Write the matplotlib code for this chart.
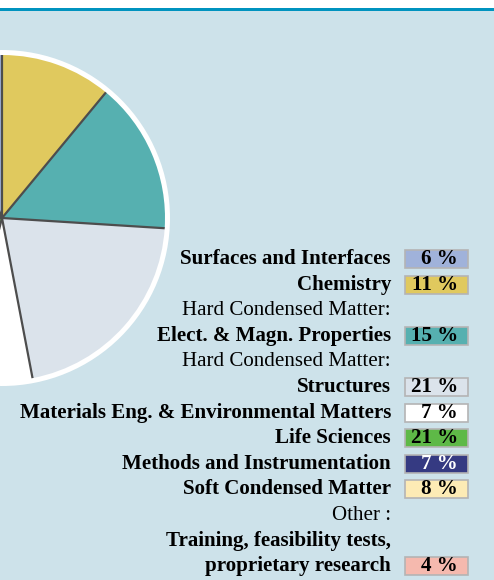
import numpy as np
import matplotlib.pyplot as plt
from matplotlib.patches import Rectangle, Circle

# proposal share per research area (clockwise from the top)
categories = ['Surfaces and Interfaces', 'Chemistry',
              'Elect. & Magn. Properties', 'Structures',
              'Materials Eng. & Environmental Matters', 'Life Sciences',
              'Methods and Instrumentation', 'Soft Condensed Matter',
              'Training, feasibility tests,\nproprietary research']
prefixes = ['', '', 'Hard Condensed Matter:', 'Hard Condensed Matter:',
            '', '', '', '', 'Other :']
shares = [6, 11, 15, 21, 7, 21, 7, 8, 4]
colors = ['#a0b2da', '#e0c95e', '#56b0b0', '#dbe3eb', '#ffffff',
          '#5eb947', '#353a82', '#fdebb5', '#f5b9ae']

BG = '#cde2ea'
W, H = 494, 580
FS = 15.1

plt.rcParams['font.family'] = ['Liberation Serif', 'DejaVu Serif']

fig = plt.figure(figsize=(W / 100, H / 100), dpi=100, facecolor=BG)
ax = fig.add_axes([0, 0, 1, 1])
ax.set_facecolor(BG)

# header strip
ax.add_patch(Rectangle((0, H - 8), W, 8, facecolor='white', edgecolor='none'))
ax.add_patch(Rectangle((0, H - 10.5), W, 2.5, facecolor='#0093bf', edgecolor='none'))

# pie, centre sitting on the left edge, white rim, dark radial separators only
cx, cy, r = 2, H - 218, 163
ax.add_patch(Circle((cx, cy), r + 5, facecolor='white', edgecolor='none'))
start = 90 + shares[0] * 3.6
ax.pie(shares, colors=colors, startangle=start, counterclock=False,
       center=(cx, cy), radius=r, wedgeprops=dict(edgecolor='none'))
bounds = start - np.cumsum([0] + shares[:-1]) * 3.6
for a in np.radians(bounds):
    ax.plot([cx, cx + r * np.cos(a)], [cy, cy + r * np.sin(a)],
            color='#4d4d4d', lw=1.6, solid_capstyle='butt')

# legend column
pitch = 25.6
y = H - 259
text_x, box_x, box_w, box_h = 391, 405, 63, 18
for cat, pre, val, col in zip(categories, prefixes, shares, colors):
    if pre:
        ax.text(text_x, y, pre, ha='right', va='center', fontsize=FS)
        y -= pitch
    for ln in cat.split('\n'):
        ax.text(text_x, y, ln, ha='right', va='center', fontsize=FS,
                fontweight='bold')
        y -= pitch
    yb = y + pitch
    ax.add_patch(Rectangle((box_x, yb - box_h / 2), box_w, box_h,
                           facecolor=col, edgecolor='#b4b4b4', linewidth=1.2))
    tc = 'white' if col == '#353a82' else 'black'
    ax.text(box_x + 53, yb, f'{val} %', ha='right', va='center',
            fontsize=FS, fontweight='bold', color=tc)

ax.set_xlim(0, W)
ax.set_ylim(0, H)
ax.set_aspect('equal')
ax.axis('off')

fig.savefig('out.png', dpi=100, facecolor=BG)
